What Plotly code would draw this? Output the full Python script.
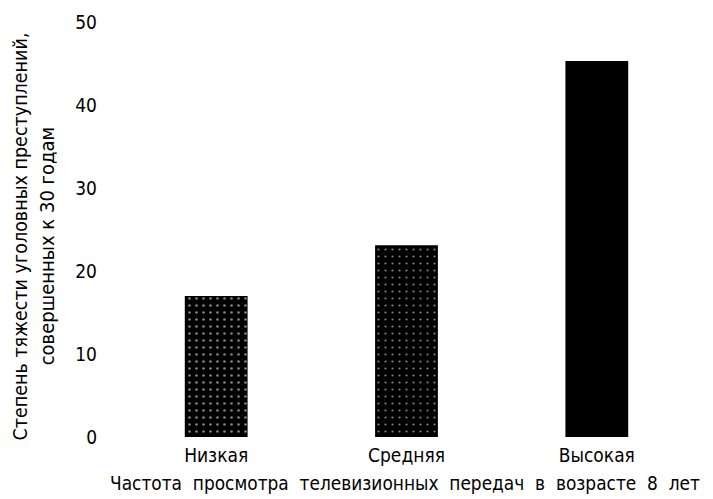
import plotly.graph_objects as go

categories = ["Низкая", "Средняя", "Высокая"]
values = [17.0, 23.1, 45.3]
y_ticks = [0, 10, 20, 30, 40, 50]
pattern_shapes = [".", ".", ""]
pattern_solidity = [0.12, 0.08, 0.2]
y_title_lines = ["Степень тяжести уголовных преступлений,", "совершенных к 30 годам"]
x_title = "Частота  просмотра  телевизионных  передач  в  возрасте  8  лет"

FONT = "DejaVu Sans Condensed"

fig = go.Figure(
    go.Bar(
        x=categories,
        y=values,
        width=0.33,
        marker=dict(
            color="black",
            line=dict(width=0),
            pattern=dict(
                shape=pattern_shapes,
                fgcolor="white",
                bgcolor="black",
                size=7,
                solidity=pattern_solidity,
            ),
        ),
    )
)

# the page body adds an 8px offset, so the figure is laid out 8px up-left
fig.update_layout(
    width=713,
    height=499,
    margin=dict(l=94, r=10, t=14, b=70),
    paper_bgcolor="white",
    plot_bgcolor="white",
    showlegend=False,
    font=dict(family=FONT, color="black", size=19),
    xaxis=dict(
        range=[-0.6, 2.6],
        automargin=False,
        showline=False,
        showgrid=False,
        zeroline=False,
        ticks="",
        tickfont=dict(size=19),
        ticklabelstandoff=5,
    ),
    yaxis=dict(
        range=[0, 50],
        automargin=False,
        tickvals=y_ticks,
        showline=False,
        showgrid=False,
        zeroline=False,
        ticks="",
        tickfont=dict(size=19),
        ticklabelstandoff=4,
    ),
    annotations=[
        dict(
            text=y_title_lines[0], xref="paper", yref="paper", x=-0.134, y=0.484,
            xanchor="center", yanchor="middle", textangle=-90, showarrow=False,
            font=dict(size=19.5),
        ),
        dict(
            text=y_title_lines[1], xref="paper", yref="paper", x=-0.09, y=0.46,
            xanchor="center", yanchor="middle", textangle=-90, showarrow=False,
            font=dict(size=20),
        ),
        dict(
            text=x_title, xref="paper", yref="paper", x=0.497, y=-0.111,
            xanchor="center", yanchor="middle", showarrow=False,
            font=dict(size=18.9),
        ),
    ],
)

fig.write_html("out.html")
